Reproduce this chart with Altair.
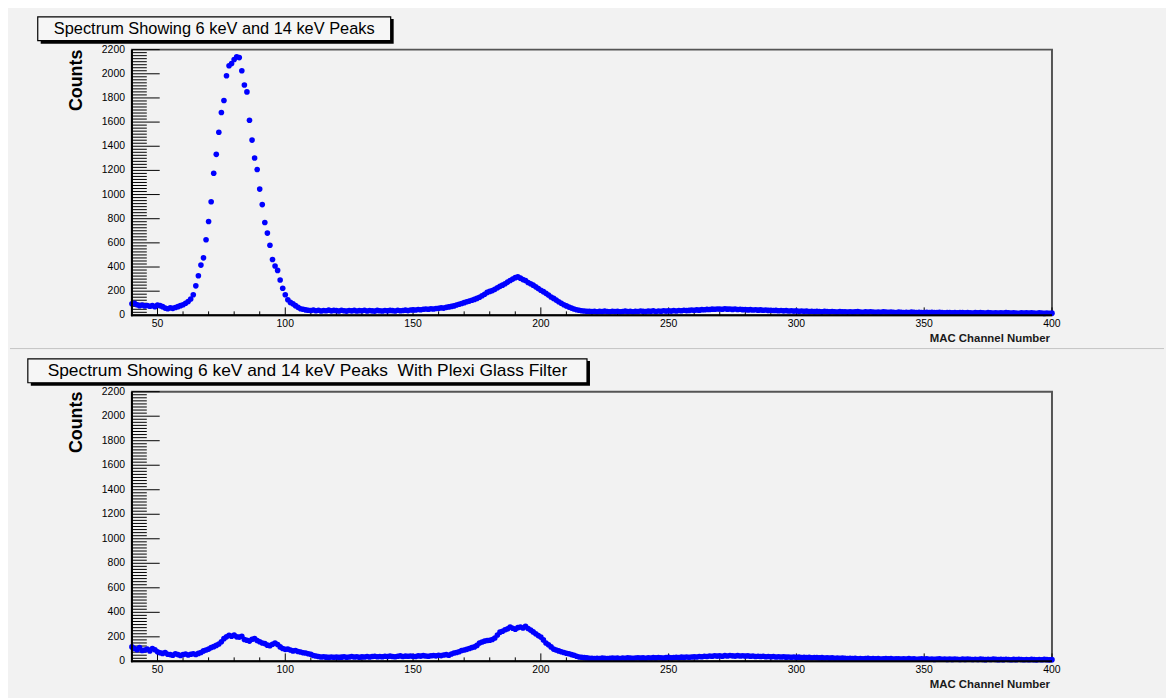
import altair as alt
import pandas as pd

# ---------------- data ----------------
CHANNELS = list(range(40, 401))

COUNTS_TOP = [
    95, 100, 88, 80, 85, 78, 82, 75, 80, 72,            # 40
    85, 80, 72, 60, 55, 62, 58, 65, 72, 80,             # 50
    88, 100, 115, 135,                                  # 60-63
    170, 244, 328, 416, 476, 626,                       # 64-69
    777, 941, 1177, 1333, 1516, 1680, 1779, 1984, 2066, 2085,   # 70
    2118, 2140, 2134, 2025, 1907, 1850, 1615, 1451, 1303, 1207, # 80
    1045, 917, 769, 681, 580, 462, 408, 372, 293, 224,          # 90
    170, 129, 107, 95, 80, 66, 55, 50, 45, 42,          # 100
    40, 44, 38, 42, 36, 40, 38, 43, 37, 41,             # 110
    39, 36, 42, 38, 35, 40, 37, 41, 36, 39,             # 120
    38, 42, 36, 40, 37, 35, 41, 38, 36, 40,             # 130
    37, 41, 39, 36, 42, 38, 40, 43, 39, 44,             # 140
    45, 44, 48, 46, 50, 52, 50, 55, 53, 57,             # 150
    58, 62, 60, 66, 70, 74, 78, 85, 92, 98,             # 160
    105, 112, 118, 125, 132, 140, 150, 162, 175, 190,   # 170
    198, 205, 215, 228, 240, 250, 262, 275, 288, 300,   # 180
    312, 318, 308, 296, 288, 272, 262, 250, 236, 222,   # 190
    208, 196, 182, 168, 152, 140, 126, 112, 100, 88,    # 200
    78, 68, 60, 52, 46, 42, 38, 36, 34, 33,             # 210
    32, 34, 30, 33, 31, 35, 32, 30, 34, 31,             # 220
    33, 30, 32, 35, 31, 34, 30, 33, 32, 36,             # 230
    34, 31, 35, 33, 37, 32, 36, 34, 38, 35,             # 240
    37, 35, 39, 36, 40, 38, 42, 39, 41, 44,             # 250
    42, 45, 43, 47, 46, 49, 48, 51, 50, 53,             # 260
    52, 50, 54, 51, 53, 49, 52, 48, 50, 47,             # 270
    48, 45, 47, 44, 46, 43, 45, 42, 44, 41,             # 280
    42, 40, 41, 38, 40, 37, 39, 36, 38, 35,             # 290
    37, 34, 36, 33, 35, 32, 34, 31, 33, 32,             # 300
    30, 33, 31, 29, 32, 30, 28, 31, 29, 30,             # 310
    28, 30, 27, 29, 31, 28, 26, 29, 27, 30,             # 320
    27, 25, 28, 26, 29, 27, 25, 28, 26, 24,             # 330
    27, 25, 23, 26, 24, 27, 25, 23, 26, 24,             # 340
    22, 25, 23, 26, 24, 22, 25, 23, 21, 24,             # 350
    22, 20, 23, 21, 24, 22, 20, 23, 21, 19,             # 360
    22, 20, 23, 21, 19, 22, 20, 18, 21, 19,             # 370
    21, 19, 22, 20, 18, 21, 19, 17, 20, 18,             # 380
    20, 18, 21, 19, 17, 20, 18, 16, 19, 17, 18,         # 390-400
]

COUNTS_BOTTOM = [
    118, 105, 95, 112, 88, 92, 100, 85, 105, 95,        # 40
    78, 70, 65, 72, 58, 55, 50, 62, 55, 48,             # 50
    55, 60, 52, 58, 62, 56, 65, 72, 85, 92,             # 60
    100, 112, 120, 130, 142, 160, 185, 200, 212, 205,   # 70
    215, 200, 198, 205, 178, 172, 165, 180, 185, 170,   # 80
    160, 150, 145, 132, 128, 140, 150, 138, 118, 105,   # 90
    98, 100, 92, 85, 88, 80, 76, 70, 68, 62,            # 100
    58, 48, 44, 40, 36, 38, 34, 32, 35, 33,             # 110
    36, 32, 34, 38, 33, 36, 40, 35, 37, 33,             # 120
    38, 35, 40, 36, 39, 42, 37, 40, 38, 41,             # 130
    39, 43, 40, 37, 42, 45, 40, 43, 41, 44,             # 140
    42, 40, 45, 43, 47, 44, 41, 46, 48, 45,             # 150
    50, 47, 52, 55, 50, 60, 68, 72, 78, 88,             # 160
    92, 98, 105, 112, 118, 130, 150, 158, 165, 170,     # 170
    172, 178, 190, 215, 238, 245, 258, 265, 280, 270,   # 180
    262, 275, 280, 272, 285, 268, 255, 240, 225, 210,   # 190
    198, 175, 150, 135, 118, 100, 92, 85, 78, 72,       # 200
    66, 62, 55, 50, 42, 36, 33, 30, 28, 25,             # 210
    24, 22, 25, 23, 26, 24, 22, 25, 27, 24,             # 220
    26, 23, 27, 25, 28, 26, 24, 27, 29, 26,             # 230
    28, 25, 29, 27, 30, 28, 31, 29, 27, 30,             # 240
    32, 29, 31, 33, 30, 34, 32, 35, 33, 36,             # 250
    38, 35, 40, 37, 42, 39, 44, 41, 46, 43,             # 260
    45, 42, 47, 44, 48, 45, 43, 47, 44, 46,             # 270
    43, 45, 41, 44, 40, 42, 39, 41, 38, 40,             # 280
    37, 39, 36, 38, 35, 37, 34, 36, 33, 35,             # 290
    32, 34, 31, 33, 30, 32, 29, 31, 30, 28,             # 300
    30, 27, 29, 26, 28, 25, 27, 24, 26, 25,             # 310
    23, 25, 22, 24, 21, 23, 20, 22, 24, 21,             # 320
    23, 20, 22, 19, 21, 23, 20, 22, 18, 21,             # 330
    20, 18, 21, 19, 22, 18, 20, 17, 19, 21,             # 340
    18, 20, 17, 19, 16, 18, 20, 17, 19, 16,             # 350
    18, 16, 19, 17, 15, 18, 16, 19, 17, 15,             # 360
    17, 15, 18, 16, 14, 17, 15, 18, 16, 14,             # 370
    16, 14, 17, 15, 13, 16, 14, 17, 15, 13,             # 380
    15, 13, 16, 14, 12, 15, 13, 16, 14, 12, 14,         # 390-400
]

Y_MAJOR = list(range(0, 2201, 200))
Y_MINOR = [v for v in range(0, 2201, 25) if v % 200]
X_MAJOR = list(range(50, 401, 50))
X_MINOR = [v for v in range(50, 400, 10) if v % 50]

TITLE_TOP = "Spectrum Showing 6 keV and 14 keV Peaks"
TITLE_BOTTOM = "Spectrum Showing 6 keV and 14 keV Peaks\u00a0 With Plexi Glass Filter"
X_TITLE = "MAC Channel Number"
Y_TITLE = "Counts"

W = 928
LEFT = 123
RIGHT = 113
FONT = "Liberation Sans"


def panel(counts, title, H, box_x0, box_x1, title_size, bg_top, bg_bottom, separator):
    xs = alt.Scale(domain=[40, 400], nice=False, zero=False)
    ys = alt.Scale(domain=[0, 2200], nice=False)
    df = pd.DataFrame({"ch": CHANNELS, "counts": counts})
    tdf = pd.DataFrame({"t": [title]})

    # invisible rect that fixes the extent of each panel
    bg = alt.Chart(tdf).mark_rect(fill="#f2f2f2", opacity=0).encode(
        x=alt.value(-LEFT), x2=alt.value(W + RIGHT),
        y=alt.value(bg_top), y2=alt.value(H + bg_bottom))

    points = alt.Chart(df).mark_circle(size=32, color="#0000ff", opacity=1).encode(
        x=alt.X("ch:Q", scale=xs, axis=None),
        y=alt.Y("counts:Q", scale=ys, axis=None),
    )

    # inward ticks
    ymaj = alt.Chart(pd.DataFrame({"v": Y_MAJOR})).mark_rule(color="#000000", strokeWidth=1).encode(
        y=alt.Y("v:Q", scale=ys, axis=None), x=alt.value(0), x2=alt.value(28))
    ymin = alt.Chart(pd.DataFrame({"v": Y_MINOR})).mark_rule(color="#000000", strokeWidth=1).encode(
        y=alt.Y("v:Q", scale=ys, axis=None), x=alt.value(0), x2=alt.value(15))
    xmaj = alt.Chart(pd.DataFrame({"v": X_MAJOR})).mark_rule(color="#000000", strokeWidth=1).encode(
        x=alt.X("v:Q", scale=xs, axis=None), y=alt.value(H), y2=alt.value(H - 8))
    xmin = alt.Chart(pd.DataFrame({"v": X_MINOR})).mark_rule(color="#000000", strokeWidth=1).encode(
        x=alt.X("v:Q", scale=xs, axis=None), y=alt.value(H), y2=alt.value(H - 4))

    # tick labels
    ylabels = alt.Chart(pd.DataFrame({"v": Y_MAJOR})).mark_text(
        font=FONT, fontSize=10.5, color="#000000", align="right", baseline="middle").encode(
        y=alt.Y("v:Q", scale=ys, axis=None), x=alt.value(-7), text="v:Q")
    xlabels = alt.Chart(pd.DataFrame({"v": X_MAJOR})).mark_text(
        font=FONT, fontSize=10.5, color="#000000", align="center", baseline="top").encode(
        x=alt.X("v:Q", scale=xs, axis=None), y=alt.value(H + 4), text="v:Q")

    # axis lines (left / bottom black)
    frame = pd.DataFrame({"t": ["frame"]})
    left_line = alt.Chart(frame).mark_rule(color="#000000", strokeWidth=2).encode(
        x=alt.value(0), y=alt.value(0), y2=alt.value(H + 1))
    bottom_line = alt.Chart(frame).mark_rule(color="#000000", strokeWidth=2).encode(
        x=alt.value(-1), x2=alt.value(W), y=alt.value(H))

    shadow = alt.Chart(tdf).mark_rect(color="#000000").encode(
        x=alt.value(box_x0 + 3), x2=alt.value(box_x1 + 3),
        y=alt.value(-31), y2=alt.value(-6))
    box = alt.Chart(tdf).mark_rect(fill="#f6f6f6", stroke="#000000", strokeWidth=1.2).encode(
        x=alt.value(box_x0), x2=alt.value(box_x1),
        y=alt.value(-33), y2=alt.value(-9))
    ttext = alt.Chart(tdf).mark_text(font=FONT, fontSize=title_size, color="#000000",
                                     align="center", baseline="middle").encode(
        x=alt.value((box_x0 + box_x1) / 2), y=alt.value(-20.5), text="t:N")

    ylab = alt.Chart(pd.DataFrame({"t": [Y_TITLE]})).mark_text(
        font=FONT, fontSize=18, fontWeight="bold", angle=270, align="right",
        baseline="middle", color="#000000").encode(
        x=alt.value(-55), y=alt.value(0), text="t:N")
    xlab = alt.Chart(pd.DataFrame({"t": [X_TITLE]})).mark_text(
        font=FONT, fontSize=11.5, fontWeight="bold", align="right",
        baseline="middle", color="#1a1a1a").encode(
        x=alt.value(W - 2), y=alt.value(H + 24), text="t:N")

    layers = [bg, ymin, ymaj, xmin, xmaj, points, left_line, bottom_line,
              ylabels, xlabels, shadow, box, ttext, ylab, xlab]
    if separator:
        sep = alt.Chart(tdf).mark_rule(color="#c4c4c4", strokeWidth=1).encode(
            x=alt.value(-LEFT), x2=alt.value(W + RIGHT),
            y=alt.value(H + 33.5), y2=alt.value(H + 33.5))
        layers.append(sep)
    return alt.layer(*layers).properties(width=W, height=H)


top = panel(COUNTS_TOP, TITLE_TOP, 268, -95, 261, 16.5, -38, 34, True)
bottom = panel(COUNTS_BOTTOM, TITLE_BOTTOM, 272, -105, 459, 17.5, -42, 35, False)

chart = alt.vconcat(top, bottom, spacing=77, bounds="flush").properties(
    padding=0,
    background="#f2f2f2",
).configure_view(
    stroke="#555555", strokeWidth=2, fill="#f2f2f2"
)

chart.save("out.html", embed_options={"renderer": "svg", "actions": False})
